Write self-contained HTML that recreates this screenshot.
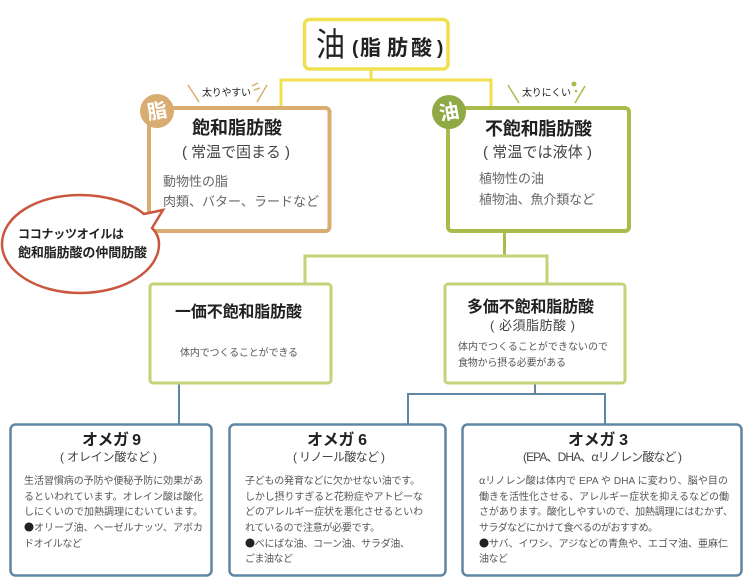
<!DOCTYPE html>
<html lang="ja">
<head>
<meta charset="utf-8">
<title>油(脂肪酸)</title>
<style>
html,body{margin:0;padding:0;background:#fff;width:751px;height:586px;overflow:hidden}
svg{display:block}
text{font-family:"Liberation Sans","Noto Sans CJK JP",sans-serif}
.t{font-weight:700;fill:#222}
.s{fill:#444}
.b{fill:#555;font-size:10px}
.m{fill:#666;font-size:13px}
.c{font-family:"Noto Sans CJK JP",sans-serif}
.d{font-family:"Noto Sans CJK JP",sans-serif;fill:#222}
</style>
</head>
<body>
<svg xmlns="http://www.w3.org/2000/svg" width="751" height="586" viewBox="0 0 751 586">
<!-- connectors -->
<g fill="none" stroke="#f0df50" stroke-width="3">
<path d="M371 70V80M281 106V80H491V106"/>
</g>
<g fill="none" stroke="#a8bb4b" stroke-width="3"><path d="M504.500 233V255"/></g>
<g fill="none" stroke="#c4d27a" stroke-width="3"><path d="M305 283V256H547V283"/></g>
<g fill="none" stroke="#5f86a3" stroke-width="2"><path d="M179 383V424M535 383V394M408 424V394H605V424"/></g>

<!-- top -->
<rect x="304.500" y="19.500" width="143.500" height="49.500" rx="5" fill="#fff" stroke="#f0df50" stroke-width="3.500"/>
<text x="316" y="56" font-size="33" fill="#222" textLength="29" lengthAdjust="spacingAndGlyphs">油</text>
<text x="352" y="54" font-size="19" class="t">(</text>
<text x="360" y="55" font-size="21" class="t">脂</text>
<text x="387" y="55" font-size="21" class="t">肪</text>
<text x="411" y="55" font-size="21" class="t">酸</text>
<text x="437" y="54" font-size="19" class="t">)</text>

<!-- saturated -->
<rect x="149" y="108" width="180.500" height="123" rx="4" fill="#fff" stroke="#d9ac71" stroke-width="4"/>
<circle cx="157" cy="111" r="17" fill="#d9ac71"/>
<text x="157" y="118" font-size="20" font-weight="700" fill="#fff" text-anchor="middle" transform="rotate(-10 157 111)">脂</text>
<text x="192" y="134" font-size="18" class="t" textLength="90">飽和脂肪酸</text>
<text x="182" y="157" font-size="15" class="s" textLength="108">( 常温で固まる )</text>
<text x="163" y="186" class="m" textLength="65">動物性の脂</text>
<text x="163" y="206" class="m" textLength="156">肉類、バター、ラードなど</text>
<path d="M188 85L199 102M267 85L257 102" stroke="#d9ac71" stroke-width="1.500" fill="none"/>
<text x="202" y="96" font-size="10" fill="#222" textLength="49">太りやすい</text>
<path d="M252 86L258 83M254 90L260 88" stroke="#d9ac71" stroke-width="1.500" fill="none"/>

<!-- unsaturated -->
<rect x="448" y="108" width="181" height="123" rx="4" fill="#fff" stroke="#a8bb4b" stroke-width="4"/>
<circle cx="449" cy="112" r="17" fill="#8faa45"/>
<text x="449" y="119" font-size="20" font-weight="700" fill="#fff" text-anchor="middle" transform="rotate(-10 449 112)">油</text>
<text x="485" y="135" font-size="18" class="t" textLength="107">不飽和脂肪酸</text>
<text x="483" y="157" font-size="15" class="s" textLength="109">( 常温では液体 )</text>
<text x="479" y="183" class="m" textLength="65">植物性の油</text>
<text x="479" y="204" class="m" textLength="116">植物油、魚介類など</text>
<path d="M508 85L519 103M585 86L575 103" stroke="#a8bb4b" stroke-width="1.500" fill="none"/>
<text x="522" y="96" font-size="10" fill="#222" textLength="49">太りにくい</text>
<circle cx="574" cy="84" r="2.500" fill="#a8bb4b"/><circle cx="576" cy="91" r="1.300" fill="#a8bb4b"/>

<!-- bubble -->
<path d="M2 244C2 216 37 195 80 195C107 195 131 203 144 214L163 210L152 228C157 233 159 238 159 244C159 271 124 293 80 293C37 293 2 271 2 244Z" fill="#fff" stroke="#c9573f" stroke-width="2.500"/>
<text x="18" y="238" font-size="12" class="t" fill="#111" textLength="106">ココナッツオイルは</text>
<text x="18" y="257" font-size="13" class="t" fill="#111" textLength="129">飽和脂肪酸の仲間肪酸</text>

<!-- mono -->
<rect x="150" y="284" width="181" height="99" rx="3" fill="#fff" stroke="#c4d27a" stroke-width="3"/>
<text x="175" y="317" font-size="16" class="t" textLength="127">一価不飽和脂肪酸</text>
<text x="180" y="356" class="b" textLength="118">体内でつくることができる</text>

<!-- poly -->
<rect x="445" y="284" width="180" height="99" rx="3" fill="#fff" stroke="#c4d27a" stroke-width="3"/>
<text x="467" y="312" font-size="16" class="t" textLength="127">多価不飽和脂肪酸</text>
<text x="490" y="330" font-size="13" class="s" textLength="85">( 必須脂肪酸 )</text>
<text x="458" y="350" class="b" textLength="150">体内でつくることができないので</text>
<text x="458" y="366" class="b" textLength="108">食物から摂る必要がある</text>

<!-- omega 9 -->
<rect x="10.500" y="424.500" width="201" height="151" rx="5" fill="#fff" stroke="#5f86a3" stroke-width="2.500"/>
<text x="82" y="445" font-size="16" class="t" textLength="59">オメガ 9</text>
<text x="60" y="461" font-size="12" class="s" textLength="97">( オレイン酸など )</text>
<text x="24" y="484" class="b" textLength="179">生活習慣病の予防や便秘予防に効果があ</text>
<text x="24" y="500" class="b" textLength="179">るといわれています。オレイン酸は酸化</text>
<text x="24" y="515" class="b" textLength="179">しにくいので加熱調理にむいています。</text>
<text x="24" y="531" class="b" textLength="179"><tspan class="d">●</tspan>オリーブ油、ヘーゼルナッツ、アボカ</text>
<text x="24" y="547" class="b" textLength="58">ドオイルなど</text>

<!-- omega 6 -->
<rect x="229.500" y="424.500" width="216" height="151" rx="5" fill="#fff" stroke="#5f86a3" stroke-width="2.500"/>
<text x="307" y="445" font-size="16" class="t" textLength="60">オメガ 6</text>
<text x="293" y="461" font-size="12" class="s" textLength="92">( リノール酸など )</text>
<text x="245" y="484" class="b" textLength="175">子どもの発育などに欠かせない油です。</text>
<text x="245" y="500" class="b" textLength="178">しかし摂りすぎると花粉症やアトピーな</text>
<text x="245" y="515" class="b" textLength="178">どのアレルギー症状を悪化させるといわ</text>
<text x="245" y="531" class="b" textLength="135">れているので注意が必要です。</text>
<text x="245" y="547" class="b" textLength="165"><tspan class="d">●</tspan>べにばな油、コーン油、サラダ油、</text>
<text x="245" y="562" class="b" textLength="48">ごま油など</text>

<!-- omega 3 -->
<rect x="462.500" y="424.500" width="279" height="151" rx="5" fill="#fff" stroke="#5f86a3" stroke-width="2.500"/>
<text x="568" y="445" font-size="16" class="t" textLength="60">オメガ 3</text>
<text x="523" y="461" font-size="12" class="s" textLength="159">(EPA、DHA、<tspan class="c">α</tspan>リノレン酸など )</text>
<text x="479" y="484" class="b" textLength="249"><tspan class="c">α</tspan>リノレン酸は体内で EPA や DHA に変わり、脳や目の</text>
<text x="479" y="500" class="b" textLength="250">働きを活性化させる、アレルギー症状を抑えるなどの働</text>
<text x="479" y="515" class="b" textLength="254">さがあります。酸化しやすいので、加熱調理にはむかず、</text>
<text x="479" y="531" class="b" textLength="179">サラダなどにかけて食べるのがおすすめ。</text>
<text x="479" y="547" class="b" textLength="249"><tspan class="d">●</tspan>サバ、イワシ、アジなどの青魚や、エゴマ油、亜麻仁</text>
<text x="479" y="562" class="b" textLength="29">油など</text>
</svg>
</body>
</html>
